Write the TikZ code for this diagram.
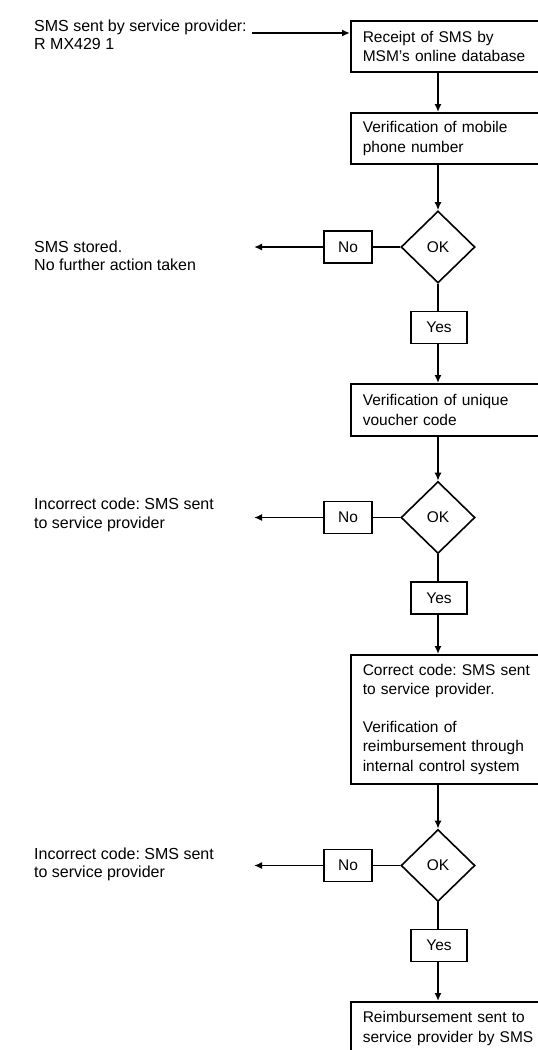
\documentclass[tikz,border=0pt]{standalone}
\usepackage{fontspec}
\setmainfont{Liberation Sans}
\frenchspacing
\usepackage{tikz}
\usetikzlibrary{shapes,arrows,arrows.meta,positioning}

\begin{document}
\begin{tikzpicture}[x=1pt, y=-1pt,
            every node/.style={font=\fontsize{15.5}{19.5}\selectfont},
            box/.style={rectangle, draw, line width=1.6pt, anchor=north west, text width=206pt, inner xsep=12pt, align=left},
            tag/.style={rectangle, draw, line width=1.6pt, minimum width=48pt, minimum height=32pt, inner sep=0pt},
            check/.style={diamond, draw, line width=1.6pt, minimum width=74pt, minimum height=72pt, inner sep=0pt},
            note/.style={anchor=west, align=left, inner sep=0pt, font=\fontsize{16}{18.5}\selectfont},
            arrow/.style={-{Latex[length=8pt, width=7pt]}, line width=1.6pt},
            link/.style={line width=1.6pt}
        ]
            \useasboundingbox (0,0) rectangle (538,1050);
            \clip (0,0) rectangle (538,1050);

            % main column
            \node[box, minimum height=51pt] (receipt) at (350,20) {Receipt of SMS by\\MSM's online database};
            \node[box, minimum height=51pt] (phone) at (350,112) {Verification of mobile\\phone number};
            \node[check] (ok1) at (438,247) {OK};
            \node[tag] (no1) at (348,247) {No};
            \node[tag, minimum width=56pt] (yes1) at (439,327.5) {Yes};
            \node[box, minimum height=52pt] (voucher) at (350,383) {Verification of unique\\voucher code};
            \node[check] (ok2) at (438,517.5) {OK};
            \node[tag] (no2) at (348,517.5) {No};
            \node[tag, minimum width=56pt] (yes2) at (439,598) {Yes};
            \node[box, minimum height=129pt] (control) at (350,654) {Correct code: SMS sent\\to service provider.\\[18pt]Verification of\\reimbursement through\\internal control system};
            \node[check] (ok3) at (438,865.5) {OK};
            \node[tag] (no3) at (348,865.5) {No};
            \node[tag, minimum width=56pt] (yes3) at (439,945.5) {Yes};
            \node[box, minimum height=53pt] (refund) at (350,1001) {Reimbursement sent to\\service provider by SMS};

            % side notes
            \node[note] (sent) at (34,35) {SMS sent by service provider:\\R MX429 1};
            \node[note] (stored) at (34,256) {SMS stored.\\No further action taken};
            \node[note] (wrong1) at (34,515) {Incorrect code: SMS sent\\to service provider};
            \node[note] (wrong2) at (34,864.5) {Incorrect code: SMS sent\\to service provider};
            \coordinate (in) at (252,33);
            \coordinate (out1) at (254,247);
            \coordinate (out2) at (254,517.5);
            \coordinate (out3) at (254,865.5);

            \draw[arrow] (in) -- (in -| receipt.west);
            \draw[arrow] (receipt.south -| ok1) -- (phone.north -| ok1);
            \draw[arrow] (phone.south -| ok1) -- (ok1.north);
            \draw[link] (ok1.west) -- (no1.east);
            \draw[arrow] (no1.west) -- (out1);
            \draw[link] (ok1.south) -- (yes1.north -| ok1);
            \draw[arrow] (yes1.south -| ok1) -- (voucher.north -| ok1);
            \draw[arrow] (voucher.south -| ok2) -- (ok2.north);
            \draw[link] (ok2.west) -- (no2.east);
            \draw[arrow] (no2.west) -- (out2);
            \draw[link] (ok2.south) -- (yes2.north -| ok2);
            \draw[arrow] (yes2.south -| ok2) -- (control.north -| ok2);
            \draw[arrow] (control.south -| ok3) -- (ok3.north);
            \draw[link] (ok3.west) -- (no3.east);
            \draw[arrow] (no3.west) -- (out3);
            \draw[link] (ok3.south) -- (yes3.north -| ok3);
            \draw[arrow] (yes3.south -| ok3) -- (refund.north -| ok3);
        \end{tikzpicture}
\end{document}
